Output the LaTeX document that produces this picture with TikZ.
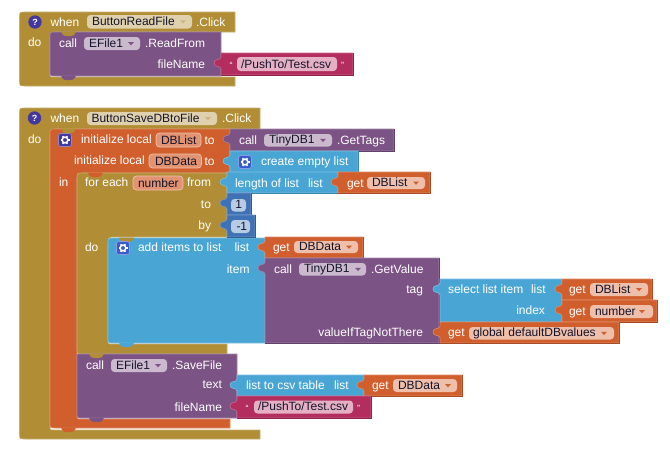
\documentclass[tikz,border=0pt]{standalone}
\usepackage{fontspec}
\setmainfont{Liberation Sans}
\definecolor{cOlive}{HTML}{B18E35}
\definecolor{cPurple}{HTML}{7C5385}
\definecolor{cOrange}{HTML}{D05F2D}
\definecolor{cBlue}{HTML}{49A6D4}
\definecolor{cNum}{HTML}{3F71B5}
\definecolor{cText}{HTML}{B32D5E}
\definecolor{fOlive}{HTML}{E0D1AE}
\definecolor{fPurple}{HTML}{CBBACE}
\definecolor{fOrange}{HTML}{EEBFAA}
\definecolor{fParam}{HTML}{E29472}
\definecolor{fNum}{HTML}{B8CBE4}
\definecolor{fText}{HTML}{E5B0C4}
\definecolor{cInk}{HTML}{14142A}
\definecolor{cHelp}{HTML}{43389F}
\definecolor{cGearB}{HTML}{3A5BCB}
\newcounter{lblc}
\tikzset{
  x=1pt,y=-1pt,
  lab/.style={text=white,font=\fontsize{12}{12}\selectfont,inner sep=0pt,outer sep=0pt},
  fldtxt/.style={text=cInk,font=\fontsize{12}{12}\selectfont,inner sep=0pt,outer sep=0pt,anchor=base west},
  edge/.style={line width=0.6pt,draw=#1!72!white},
}
% white text starting at x, on baseline y
\newcommand{\lbl}[3]{\stepcounter{lblc}\node[lab,anchor=base west] (lbl\arabic{lblc}) at (#1,#2) {#3};}
% white text ending at x, on baseline y
\newcommand{\rlbl}[3]{\stepcounter{lblc}\node[lab,anchor=base east] (lbl\arabic{lblc}) at (#1,#2) {#3};}
% value block with an output tab: colour, x1, y1, x2, y2
\newcommand{\valblock}[5]{%
  \path[fill=#1,edge=#1] (#2,#3) -- (#4,#3) -- (#4,#5) -- (#2,#5) -- (#2,#3+16)
    .. controls (#2,#3+12) and (#2-7,#3+15) .. (#2-7,#3+10)
    .. controls (#2-7,#3+5) and (#2,#3+8) .. (#2,#3+4) -- cycle;
  \draw[#1!80!black,line width=0.6pt] (#4,#3) -- (#4,#5) -- (#2,#5);
}
% statement block: colour, x1, y1, x2, y2, top-left radius
\newcommand{\stmtblock}[6]{%
  \path[fill=#1,edge=#1] (#2+#6,#3) -- (#4,#3) -- (#4,#5) -- (#2+5,#5) .. controls (#2,#5) .. (#2,#5-5)
    -- (#2,#3+#6) .. controls (#2,#3) .. cycle;
}
% C-shaped block: colour, x0, top, header right, header bottom, inner left, inner bottom, foot right, foot bottom
\newcommand{\cblock}[9]{%
  \path[fill=#1,edge=#1] (#2+6,#3) -- (#4,#3) -- (#4,#5) -- (#6+8,#5) .. controls (#6,#5) .. (#6,#5+8)
    -- (#6,#7-4) .. controls (#6,#7) .. (#6+4,#7) -- (#8,#7) -- (#8,#9)
    -- (#2+6,#9) .. controls (#2,#9) .. (#2,#9-6) -- (#2,#3+6) .. controls (#2,#3) .. cycle;
}
% statement notch: colour, left x, y
\newcommand{\notch}[3]{\fill[#1] (#2,#3-0.3) -- (#2+2,#3+3) .. controls (#2+3,#3+4.5) and (#2+12,#3+4.5) .. (#2+13,#3+3) -- (#2+15,#3-0.3) -- cycle;}
% field: fill, x1, y1, x2, y2, text x, text, triangle x (empty for none), triangle colour
\newcommand{\fld}[9]{%
  \fill[#1,rounded corners=3.5pt] (#2,#3) rectangle (#4,#5);
  \stepcounter{lblc}\node[fldtxt] (lbl\arabic{lblc}) at (#6,#5-3) {#7};
  \ifx\relax#8\relax\else\fill[#9] (#8-3,#3/2+#5/2-1.5) -- (#8+3,#3/2+#5/2-1.5) -- (#8,#3/2+#5/2+1.8) -- cycle;\fi
}
% named parameter field with a pale rim: x1, y1, x2, y2, text x, text
\newcommand{\param}[6]{%
  \path[fill=fParam,draw=fOrange,line width=0.7pt,rounded corners=3.5pt] (#1,#2) rectangle (#3,#4);
  \stepcounter{lblc}\node[fldtxt] (lbl\arabic{lblc}) at (#5,#4-3) {#6};
}
% mutator gear badge: fill, centre x, centre y
\newcommand{\gear}[3]{%
  \path[fill=#1,draw=#1!60!white,line width=0.7pt,rounded corners=2.5pt] (#2-6.5,#3-6.5) rectangle (#2+6.5,#3+6.5);
  \draw[white,line width=1.5pt] (#2,#3) circle[radius=2.9];
  \foreach \a in {0,60,...,300}{\draw[white,line width=1.4pt] (#2,#3) ++(\a:2.9) -- ++(\a:1.6);}
}
% help badge: centre x, centre y
\newcommand{\helpmark}[2]{%
  \fill[cHelp] (#1,#2) circle[radius=6.7];
  \stepcounter{lblc}\node[text=white,font=\fontsize{9}{9}\selectfont\bfseries,inner sep=0pt] (lbl\arabic{lblc}) at (#1,#2) {?};
}
% quote mark of a text block
\newcommand{\quot}[3]{\stepcounter{lblc}\node[text=white,font=\fontsize{9}{9}\selectfont,inner sep=0pt,anchor=base west] (lbl\arabic{lblc}) at (#1,#2) {#3};}

\begin{document}
\begin{tikzpicture}
\useasboundingbox (0,0) rectangle (670,450);
\fill[white] (0,0) rectangle (670,450);

% --- ButtonReadFile handler ---
\cblock{cOlive}{19.5}{12}{235}{32}{50}{77}{235}{86}
\stmtblock{cPurple}{50}{32}{221}{76}{6}
\notch{cOlive}{61}{32}
\notch{cPurple}{61}{76}
\helpmark{35}{22}
\lbl{50.5}{26}{when}
\fld{fOlive}{87}{15}{192}{28.5}{92}{ButtonReadFile}{183}{cOlive!65!white}
\lbl{196}{26}{.Click}
\lbl{28}{46}{do}
\lbl{59}{47}{call}
\fld{fPurple}{84}{37}{140}{50}{89}{EFile1}{131}{cPurple}
\lbl{145}{47}{.ReadFrom}
\rlbl{205}{68}{fileName}
\valblock{cText}{221}{53}{353}{75}
\quot{229.5}{68}{“}
\fld{fText}{237}{57}{337}{71}{241}{/PushTo/Test.csv}{}{black}
\quot{341}{68}{”}

% --- ButtonSaveDBtoFile handler ---
\cblock{cOlive}{19.5}{108}{260}{129}{50}{430}{260}{439}
\cblock{cOrange}{50}{129}{230}{173}{77}{419}{230}{428}
\cblock{cOlive}{77}{173}{227}{237}{108}{344}{227}{354}
\stmtblock{cBlue}{108}{238}{265}{343}{6}
\stmtblock{cPurple}{77}{354}{237}{418}{0.01}
\notch{cOlive}{61}{129}
\notch{cOrange}{88}{173}
\notch{cOlive}{119}{238}
\notch{cBlue}{119}{343}
\notch{cOlive}{89}{354}
\notch{cPurple}{89}{418}
\notch{cOrange}{61}{428}

\helpmark{34.5}{118}
\lbl{50.5}{122}{when}
\fld{fOlive}{87}{112}{217}{125}{91.5}{ButtonSaveDBtoFile}{208}{cOlive!65!white}
\lbl{222}{122}{.Click}
\lbl{28}{143}{do}
\gear{cHelp}{65}{140}
\lbl{81}{143.5}{initialize local}
\param{156}{133}{201}{147}{161}{DBList}
\lbl{204.5}{144}{to}
\lbl{74}{164.5}{initialize local}
\param{149}{154}{201.5}{168}{155}{DBData}
\lbl{204.5}{165}{to}
\lbl{59}{186}{in}

% counted loop
\lbl{85}{186}{for each}
\param{133}{176}{183}{190}{138}{number}
\lbl{187}{186}{from}
\rlbl{211}{208}{to}
\rlbl{211}{229.5}{by}
\lbl{85}{251}{do}

% local variable values
\valblock{cPurple}{230}{129}{394}{151}
\lbl{239}{144}{call}
\fld{fPurple}{264}{134}{332}{146.5}{269}{TinyDB1}{323}{cPurple}
\lbl{337}{144}{.GetTags}
\valblock{cBlue}{230}{151}{358}{173}
\gear{cGearB}{245}{162}
\lbl{261}{165.5}{create empty list}

% loop bounds
\valblock{cBlue}{227}{172}{338}{193}
\lbl{235}{187}{length of list}
\lbl{308}{187}{list}
\valblock{cOrange}{338}{172}{430}{193}
\lbl{347}{187}{get}
\fld{fOrange}{367}{177}{425}{189}{372}{DBList}{416}{cOrange}
\valblock{cNum}{227}{193}{251}{215}
\fld{fNum}{231}{199}{246}{211.5}{235.3}{1}{}{black}
\valblock{cNum}{227}{215}{255}{237}
\fld{fNum}{231}{220}{250}{233}{236.5}{-1}{}{black}

% loop body
\gear{cGearB}{123}{248}
\lbl{138}{251}{add items to list}
\lbl{234.5}{251}{list}
\rlbl{249.5}{273}{item}
\valblock{cOrange}{265}{237}{363}{258}
\lbl{273}{251.5}{get}
\fld{fOrange}{294}{241}{358}{253}{299}{DBData}{349}{cOrange}
\valblock{cPurple}{265}{258}{439}{343}
\lbl{274}{273}{call}
\fld{fPurple}{299}{263}{366}{275.5}{304}{TinyDB1}{358}{cPurple}
\lbl{371}{273}{.GetValue}
\rlbl{423}{293}{tag}
\rlbl{423}{336}{valueIfTagNotThere}
\valblock{cBlue}{440}{279}{562}{322}
\lbl{448}{293}{select list item}
\lbl{531}{293}{list}
\rlbl{545}{314.5}{index}
\valblock{cOrange}{562}{279}{652}{300}
\lbl{569}{293.5}{get}
\fld{fOrange}{590}{283}{648}{296}{595}{DBList}{639}{cOrange}
\valblock{cOrange}{562}{300}{657}{322}
\lbl{569}{315}{get}
\fld{fOrange}{590}{305}{653}{318}{595}{number}{642}{cOrange}
\valblock{cOrange}{440}{322}{619}{343}
\lbl{448}{336}{get}
\fld{fOrange}{469}{327}{614}{339.5}{473}{global defaultDBvalues}{604}{cOrange}

% file write
\lbl{86}{369}{call}
\fld{fPurple}{111}{359}{167}{372}{116}{EFile1}{158}{cPurple}
\lbl{172}{369}{.SaveFile}
\rlbl{222}{388.5}{text}
\rlbl{222}{411}{fileName}
\valblock{cBlue}{237}{375}{364}{396}
\lbl{246}{389}{list to csv table}
\lbl{334}{389}{list}
\valblock{cOrange}{364}{375}{462}{396}
\lbl{372}{389.5}{get}
\fld{fOrange}{393}{379}{457}{392}{398}{DBData}{448}{cOrange}
\valblock{cText}{237}{396}{371}{418}
\quot{245.5}{411}{“}
\fld{fText}{254}{400.5}{353}{413.5}{258}{/PushTo/Test.csv}{}{black}
\quot{357}{411}{”}
\end{tikzpicture}
\end{document}
